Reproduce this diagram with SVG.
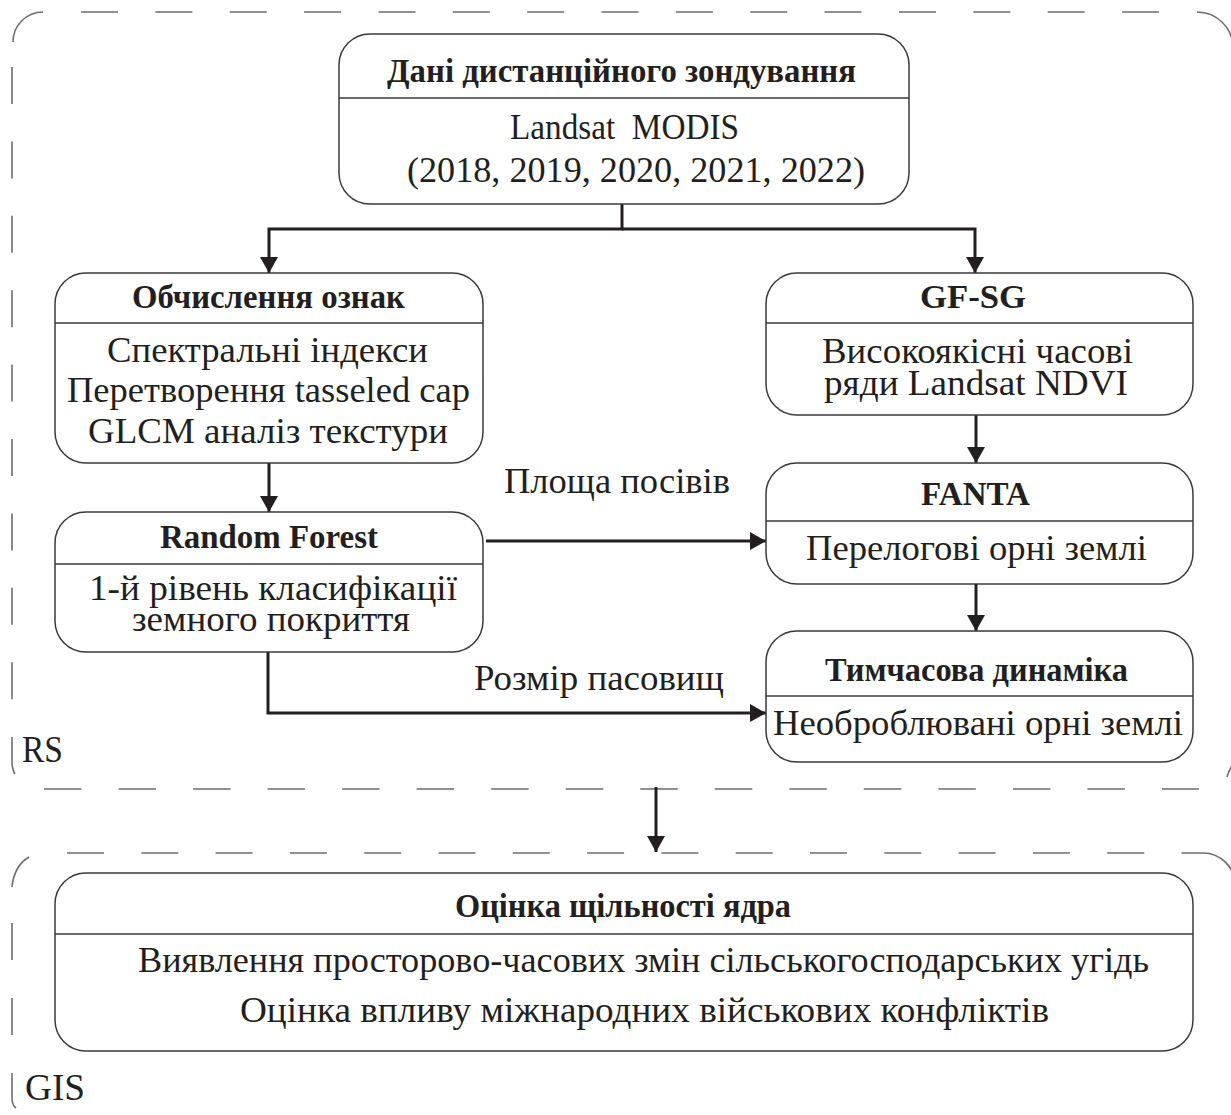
<svg xmlns="http://www.w3.org/2000/svg" width="1231" height="1115" viewBox="0 0 1231 1115">
<style>
  .frame { fill: none; stroke: #6d6e71; stroke-width: 1.6; }
  .node rect { fill: #ffffff; stroke: #3a3a3a; stroke-width: 1.5; }
  .div { stroke: #3a3a3a; stroke-width: 1.5; }
  .t { font-family: "Liberation Serif", "Times New Roman", serif; font-size: 35px; fill: #231f20; }
  .b { font-family: "Liberation Serif", "Times New Roman", serif; font-size: 34px; font-weight: bold; fill: #231f20; }
  .lbl { font-family: "Liberation Serif", "Times New Roman", serif; font-size: 38px; fill: #231f20; }
  .conn path { fill: none; stroke: #231f20; stroke-width: 3; }
</style>
<defs>
  <marker id="arrow" markerUnits="userSpaceOnUse" viewBox="0 0 16 18" refX="16" refY="9" markerWidth="16" markerHeight="18" orient="auto">
    <path d="M0,0 L16,9 L0,18 Z" fill="#231f20"/>
  </marker>
</defs>

<!-- RS frame -->
<g id="frame-rs">
  <path class="frame" d="M13,42 A30,30 0 0 1 43,12"/>
  <path class="frame" d="M81,12 H1159" stroke-dasharray="37 37.36"/>
  <path class="frame" d="M1197,12 A36,36 0 0 1 1233,48"/>
  <path class="frame" d="M12,67 V700" stroke-dasharray="37 37.4"/>
  <path class="frame" d="M12,737 V762 Q12,769 15,774"/>
  <path class="frame" d="M44,789 H1199" stroke-dasharray="37.5 37.03"/>
  <path class="frame" d="M1227,777 Q1229,770 1232,766"/>
  <text class="lbl" x="22" y="762" textLength="41" lengthAdjust="spacingAndGlyphs">RS</text>
</g>

<!-- GIS frame -->
<g id="frame-gis">
  <path class="frame" d="M12,887 Q14,866 29,857"/>
  <path class="frame" d="M67,853 H1182" stroke-dasharray="37 37.3"/>
  <path class="frame" d="M1182,853 H1203 A32,32 0 0 1 1235,885"/>
  <path class="frame" d="M12,923 V960 M12,998 V1035"/>
  <path class="frame" d="M12,1073 V1098 Q12,1105 16,1108"/>
  <text class="lbl" x="25" y="1100" textLength="60" lengthAdjust="spacingAndGlyphs">GIS</text>
</g>

<!-- Connectors -->
<g id="connectors" class="conn">
  <path d="M622,204 V229 H269 V273" marker-end="url(#arrow)"/>
  <path d="M622,229 H975 V273" marker-end="url(#arrow)"/>
  <path d="M269,463 V512" marker-end="url(#arrow)"/>
  <path d="M976,415 V463" marker-end="url(#arrow)"/>
  <path d="M976,584 V631" marker-end="url(#arrow)"/>
  <path d="M486,541 H766" marker-end="url(#arrow)"/>
  <path d="M268,652 V713 H766" marker-end="url(#arrow)"/>
  <path d="M656,787 V852" marker-end="url(#arrow)"/>
  <text class="t" x="504" y="493" textLength="226" lengthAdjust="spacingAndGlyphs">Площа посівів</text>
  <text class="t" x="474" y="690" textLength="250" lengthAdjust="spacingAndGlyphs">Розмір пасовищ</text>
</g>

<!-- Nodes -->
<g id="node-data" class="node">
  <rect x="339" y="34" width="570" height="170" rx="31"/>
  <line class="div" x1="339" y1="98" x2="909" y2="98"/>
  <text class="b" x="387" y="82" textLength="469" lengthAdjust="spacingAndGlyphs">Дані дистанційного зондування</text>
  <text class="t" x="510" y="139" textLength="229" lengthAdjust="spacingAndGlyphs" xml:space="preserve">Landsat  MODIS</text>
  <text class="t" x="407" y="182" textLength="458" lengthAdjust="spacingAndGlyphs">(2018, 2019, 2020, 2021, 2022)</text>
</g>

<g id="node-features" class="node">
  <rect x="55" y="273" width="428" height="190" rx="31"/>
  <line class="div" x1="55" y1="323" x2="483" y2="323"/>
  <text class="b" x="132" y="308" textLength="273" lengthAdjust="spacingAndGlyphs">Обчислення ознак</text>
  <text class="t" x="107" y="362" textLength="321" lengthAdjust="spacingAndGlyphs">Спектральні індекси</text>
  <text class="t" x="67" y="402" textLength="403" lengthAdjust="spacingAndGlyphs">Перетворення tasseled cap</text>
  <text class="t" x="88" y="443" textLength="360" lengthAdjust="spacingAndGlyphs">GLCM аналіз текстури</text>
</g>

<g id="node-rf" class="node">
  <rect x="55" y="512" width="428" height="140" rx="31"/>
  <line class="div" x1="55" y1="564" x2="483" y2="564"/>
  <text class="b" x="160" y="548" textLength="218" lengthAdjust="spacingAndGlyphs">Random Forest</text>
  <text class="t" x="89" y="600" textLength="368" lengthAdjust="spacingAndGlyphs">1-й рівень класифікації</text>
  <text class="t" x="132" y="631" textLength="278" lengthAdjust="spacingAndGlyphs">земного покриття</text>
</g>

<g id="node-gfsg" class="node">
  <rect x="766" y="273" width="427" height="142" rx="31"/>
  <line class="div" x1="766" y1="323" x2="1193" y2="323"/>
  <text class="b" x="920" y="308" textLength="106" lengthAdjust="spacingAndGlyphs">GF-SG</text>
  <text class="t" x="822" y="363" textLength="311" lengthAdjust="spacingAndGlyphs">Високоякісні часові</text>
  <text class="t" x="824" y="395" textLength="304" lengthAdjust="spacingAndGlyphs">ряди Landsat NDVI</text>
</g>

<g id="node-fanta" class="node">
  <rect x="766" y="463" width="427" height="121" rx="31"/>
  <line class="div" x1="766" y1="521" x2="1193" y2="521"/>
  <text class="b" x="921" y="505" textLength="109" lengthAdjust="spacingAndGlyphs">FANTA</text>
  <text class="t" x="806" y="560" textLength="341" lengthAdjust="spacingAndGlyphs">Перелогові орні землі</text>
</g>

<g id="node-dynamics" class="node">
  <rect x="766" y="631" width="427" height="131" rx="31"/>
  <line class="div" x1="766" y1="696" x2="1193" y2="696"/>
  <text class="b" x="825" y="681" textLength="303" lengthAdjust="spacingAndGlyphs">Тимчасова динаміка</text>
  <text class="t" x="773" y="735" textLength="410" lengthAdjust="spacingAndGlyphs">Необроблювані орні землі</text>
</g>

<g id="node-kde" class="node">
  <rect x="55" y="873" width="1138" height="178" rx="31"/>
  <line class="div" x1="55" y1="934" x2="1193" y2="934"/>
  <text class="b" x="455" y="917" textLength="336" lengthAdjust="spacingAndGlyphs">Оцінка щільності ядра</text>
  <text class="t" x="138" y="972" textLength="1011" lengthAdjust="spacingAndGlyphs">Виявлення просторово-часових змін сільськогосподарських угідь</text>
  <text class="t" x="240" y="1022" textLength="809" lengthAdjust="spacingAndGlyphs">Оцінка впливу міжнародних військових конфліктів</text>
</g>
</svg>
